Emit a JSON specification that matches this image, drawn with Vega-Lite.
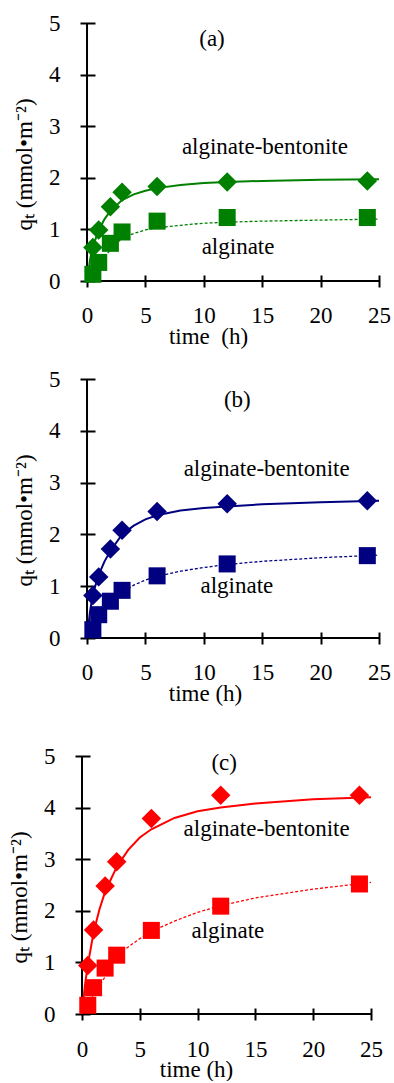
{
  "$schema": "https://vega.github.io/schema/vega-lite/v6.json",
  "background": "white",
  "padding": {"left": 7, "top": 12, "right": 0, "bottom": 0},
  "config": {
    "view": {"stroke": null},
    "font": "Liberation Serif, Times New Roman, serif",
    "axis": {
      "labelFont": "Liberation Serif, Times New Roman, serif", "titleFont": "Liberation Serif, Times New Roman, serif",
      "labelFontSize": 23, "titleFontSize": 23, "labelColor": "black", "titleColor": "black",
      "titleFontWeight": "normal", "tickColor": "black", "tickWidth": 2, "domain": false, "grid": false,
      "labelFlush": false, "labelOverlap": false, "labelBound": false
    },
    "text": {"font": "Liberation Serif, Times New Roman, serif", "fontSize": 23}
  },
  "datasets": {
    "frame": [
      {"t": 0, "q": 0, "t2": 0, "q2": 5},
      {"t": 0, "q": 0, "t2": 25, "q2": 0}
    ],
    "points": [
      {"panel":"a","series":"alginate-bentonite","t":0.5,"q":0.65},
      {"panel":"a","series":"alginate-bentonite","t":1,"q":0.99},
      {"panel":"a","series":"alginate-bentonite","t":2,"q":1.44},
      {"panel":"a","series":"alginate-bentonite","t":3,"q":1.72},
      {"panel":"a","series":"alginate-bentonite","t":6,"q":1.83},
      {"panel":"a","series":"alginate-bentonite","t":12,"q":1.92},
      {"panel":"a","series":"alginate-bentonite","t":24,"q":1.94},
      {"panel":"a","series":"alginate","t":0.5,"q":0.13},
      {"panel":"a","series":"alginate","t":1,"q":0.36},
      {"panel":"a","series":"alginate","t":2,"q":0.73},
      {"panel":"a","series":"alginate","t":3,"q":0.95},
      {"panel":"a","series":"alginate","t":6,"q":1.16},
      {"panel":"a","series":"alginate","t":12,"q":1.23},
      {"panel":"a","series":"alginate","t":24,"q":1.23},
      {"panel":"b","series":"alginate-bentonite","t":0.5,"q":0.82},
      {"panel":"b","series":"alginate-bentonite","t":1,"q":1.18},
      {"panel":"b","series":"alginate-bentonite","t":2,"q":1.72},
      {"panel":"b","series":"alginate-bentonite","t":3,"q":2.08},
      {"panel":"b","series":"alginate-bentonite","t":6,"q":2.44},
      {"panel":"b","series":"alginate-bentonite","t":12,"q":2.59},
      {"panel":"b","series":"alginate-bentonite","t":24,"q":2.65},
      {"panel":"b","series":"alginate","t":0.5,"q":0.16},
      {"panel":"b","series":"alginate","t":1,"q":0.45},
      {"panel":"b","series":"alginate","t":2,"q":0.71},
      {"panel":"b","series":"alginate","t":3,"q":0.92},
      {"panel":"b","series":"alginate","t":6,"q":1.2},
      {"panel":"b","series":"alginate","t":12,"q":1.43},
      {"panel":"b","series":"alginate","t":24,"q":1.59},
      {"panel":"c","series":"alginate-bentonite","t":0.5,"q":0.94},
      {"panel":"c","series":"alginate-bentonite","t":1,"q":1.63},
      {"panel":"c","series":"alginate-bentonite","t":2,"q":2.48},
      {"panel":"c","series":"alginate-bentonite","t":3,"q":2.95},
      {"panel":"c","series":"alginate-bentonite","t":6,"q":3.79},
      {"panel":"c","series":"alginate-bentonite","t":12,"q":4.24},
      {"panel":"c","series":"alginate-bentonite","t":24,"q":4.24},
      {"panel":"c","series":"alginate","t":0.5,"q":0.17},
      {"panel":"c","series":"alginate","t":1,"q":0.51},
      {"panel":"c","series":"alginate","t":2,"q":0.89},
      {"panel":"c","series":"alginate","t":3,"q":1.14},
      {"panel":"c","series":"alginate","t":6,"q":1.62},
      {"panel":"c","series":"alginate","t":12,"q":2.09},
      {"panel":"c","series":"alginate","t":24,"q":2.52}
    ],
    "curves": [
      {"panel":"a","series":"alginate-bentonite","t":0,"q":0},
      {"panel":"a","series":"alginate-bentonite","t":0.25,"q":0.4},
      {"panel":"a","series":"alginate-bentonite","t":0.5,"q":0.67},
      {"panel":"a","series":"alginate-bentonite","t":1,"q":0.98},
      {"panel":"a","series":"alginate-bentonite","t":1.5,"q":1.2},
      {"panel":"a","series":"alginate-bentonite","t":2,"q":1.36},
      {"panel":"a","series":"alginate-bentonite","t":3,"q":1.57},
      {"panel":"a","series":"alginate-bentonite","t":4,"q":1.68},
      {"panel":"a","series":"alginate-bentonite","t":5,"q":1.75},
      {"panel":"a","series":"alginate-bentonite","t":6,"q":1.8},
      {"panel":"a","series":"alginate-bentonite","t":8,"q":1.86},
      {"panel":"a","series":"alginate-bentonite","t":10,"q":1.9},
      {"panel":"a","series":"alginate-bentonite","t":12,"q":1.92},
      {"panel":"a","series":"alginate-bentonite","t":15,"q":1.94},
      {"panel":"a","series":"alginate-bentonite","t":20,"q":1.96},
      {"panel":"a","series":"alginate-bentonite","t":25,"q":1.97},
      {"panel":"a","series":"alginate","t":0,"q":0},
      {"panel":"a","series":"alginate","t":0.5,"q":0.2},
      {"panel":"a","series":"alginate","t":1,"q":0.35},
      {"panel":"a","series":"alginate","t":2,"q":0.6},
      {"panel":"a","series":"alginate","t":3,"q":0.83},
      {"panel":"a","series":"alginate","t":4,"q":0.92},
      {"panel":"a","series":"alginate","t":5,"q":0.99},
      {"panel":"a","series":"alginate","t":6,"q":1.03},
      {"panel":"a","series":"alginate","t":8,"q":1.08},
      {"panel":"a","series":"alginate","t":10,"q":1.12},
      {"panel":"a","series":"alginate","t":12,"q":1.14},
      {"panel":"a","series":"alginate","t":15,"q":1.16},
      {"panel":"a","series":"alginate","t":20,"q":1.18},
      {"panel":"a","series":"alginate","t":25,"q":1.2},
      {"panel":"b","series":"alginate-bentonite","t":0,"q":0},
      {"panel":"b","series":"alginate-bentonite","t":0.25,"q":0.5},
      {"panel":"b","series":"alginate-bentonite","t":0.5,"q":0.85},
      {"panel":"b","series":"alginate-bentonite","t":1,"q":1.22},
      {"panel":"b","series":"alginate-bentonite","t":1.5,"q":1.48},
      {"panel":"b","series":"alginate-bentonite","t":2,"q":1.68},
      {"panel":"b","series":"alginate-bentonite","t":3,"q":2.0},
      {"panel":"b","series":"alginate-bentonite","t":4,"q":2.17},
      {"panel":"b","series":"alginate-bentonite","t":5,"q":2.29},
      {"panel":"b","series":"alginate-bentonite","t":6,"q":2.37},
      {"panel":"b","series":"alginate-bentonite","t":8,"q":2.46},
      {"panel":"b","series":"alginate-bentonite","t":10,"q":2.51},
      {"panel":"b","series":"alginate-bentonite","t":12,"q":2.54},
      {"panel":"b","series":"alginate-bentonite","t":15,"q":2.58},
      {"panel":"b","series":"alginate-bentonite","t":20,"q":2.62},
      {"panel":"b","series":"alginate-bentonite","t":25,"q":2.65},
      {"panel":"b","series":"alginate","t":0,"q":0},
      {"panel":"b","series":"alginate","t":0.5,"q":0.2},
      {"panel":"b","series":"alginate","t":1,"q":0.38},
      {"panel":"b","series":"alginate","t":2,"q":0.66},
      {"panel":"b","series":"alginate","t":3,"q":0.88},
      {"panel":"b","series":"alginate","t":4,"q":1.02},
      {"panel":"b","series":"alginate","t":5,"q":1.12},
      {"panel":"b","series":"alginate","t":6,"q":1.19},
      {"panel":"b","series":"alginate","t":8,"q":1.29},
      {"panel":"b","series":"alginate","t":10,"q":1.36},
      {"panel":"b","series":"alginate","t":12,"q":1.42},
      {"panel":"b","series":"alginate","t":15,"q":1.48},
      {"panel":"b","series":"alginate","t":20,"q":1.55},
      {"panel":"b","series":"alginate","t":25,"q":1.6},
      {"panel":"c","series":"alginate-bentonite","t":0,"q":0},
      {"panel":"c","series":"alginate-bentonite","t":0.25,"q":0.55},
      {"panel":"c","series":"alginate-bentonite","t":0.5,"q":0.95},
      {"panel":"c","series":"alginate-bentonite","t":1,"q":1.58},
      {"panel":"c","series":"alginate-bentonite","t":1.5,"q":2.02},
      {"panel":"c","series":"alginate-bentonite","t":2,"q":2.37},
      {"panel":"c","series":"alginate-bentonite","t":3,"q":2.85},
      {"panel":"c","series":"alginate-bentonite","t":4,"q":3.18},
      {"panel":"c","series":"alginate-bentonite","t":5,"q":3.42},
      {"panel":"c","series":"alginate-bentonite","t":6,"q":3.58},
      {"panel":"c","series":"alginate-bentonite","t":8,"q":3.8},
      {"panel":"c","series":"alginate-bentonite","t":10,"q":3.93},
      {"panel":"c","series":"alginate-bentonite","t":12,"q":4.0},
      {"panel":"c","series":"alginate-bentonite","t":15,"q":4.08},
      {"panel":"c","series":"alginate-bentonite","t":20,"q":4.16},
      {"panel":"c","series":"alginate-bentonite","t":25,"q":4.2},
      {"panel":"c","series":"alginate","t":0,"q":0},
      {"panel":"c","series":"alginate","t":0.5,"q":0.18},
      {"panel":"c","series":"alginate","t":1,"q":0.38},
      {"panel":"c","series":"alginate","t":2,"q":0.72},
      {"panel":"c","series":"alginate","t":3,"q":1.12},
      {"panel":"c","series":"alginate","t":4,"q":1.3},
      {"panel":"c","series":"alginate","t":5,"q":1.46},
      {"panel":"c","series":"alginate","t":6,"q":1.6},
      {"panel":"c","series":"alginate","t":8,"q":1.8},
      {"panel":"c","series":"alginate","t":10,"q":1.97},
      {"panel":"c","series":"alginate","t":12,"q":2.1},
      {"panel":"c","series":"alginate","t":15,"q":2.25},
      {"panel":"c","series":"alginate","t":20,"q":2.42},
      {"panel":"c","series":"alginate","t":25,"q":2.55}
    ],
    "labels": [
      {"panel":"a","label":"(a)","t":10.7,"q":4.55},
      {"panel":"a","label":"alginate-bentonite","t":15.23,"q":2.47},
      {"panel":"a","label":"alginate","t":12.93,"q":0.52},
      {"panel":"b","label":"(b)","t":12.87,"q":4.45},
      {"panel":"b","label":"alginate-bentonite","t":15.38,"q":3.12},
      {"panel":"b","label":"alginate","t":12.83,"q":0.87},
      {"panel":"c","label":"(c)","t":12.3,"q":4.73},
      {"panel":"c","label":"alginate-bentonite","t":15.97,"q":3.44},
      {"panel":"c","label":"alginate","t":12.62,"q":1.47}
    ]
  },
  "spacing": 40,
  "vconcat": [
    {
      "spacing": 20,
      "vconcat": [
        {
          "width": 297, "height": 258,
          "encoding": {
            "x": {"field": "t", "type": "quantitative", "scale": {"domain": [-0.43, 25], "nice": false, "zero": false},
              "axis": {"values": [0,5,10,15,20,25], "offset": -6, "tickSize": 12, "labelPadding": 35.5, "labelBaseline": "alphabetic",
                "title": "time\u00a0 (h)", "titleX": 126, "titleY": 68, "titleBaseline": "alphabetic", "titleAlign": "center"}},
            "y": {"field": "q", "type": "quantitative", "scale": {"domain": [0, 5], "nice": false, "zero": false},
              "axis": {"values": [0,1,2,3,4,5], "offset": -13, "tickSize": 15, "labelPadding": 20,
                "title": "qₜ (mmol•m⁻²)", "titleX": -64, "titleY": 141, "titleBaseline": "alphabetic", "titleAlign": "center"}}
          },
          "layer": [
            {"data": {"name": "frame"}, "mark": {"type": "rule", "color": "black", "strokeWidth": 2},
              "encoding": {"x2": {"field": "t2"}, "y2": {"field": "q2"}}},
            {"data": {"name": "curves"}, "transform": [{"filter": "datum.panel === 'a' && datum.series === 'alginate'"}],
              "mark": {"type": "line", "color": "#008000", "strokeWidth": 1.3, "strokeDash": [3, 2]}},
            {"data": {"name": "curves"}, "transform": [{"filter": "datum.panel === 'a' && datum.series === 'alginate-bentonite'"}],
              "mark": {"type": "line", "color": "#008000", "strokeWidth": 2}},
            {"data": {"name": "points"}, "transform": [{"filter": "datum.panel === 'a'"}],
              "mark": {"type": "point", "filled": true, "opacity": 1, "color": "#008000", "strokeWidth": 0},
              "encoding": {
                "shape": {"field": "series", "type": "nominal", "scale": {"domain": ["alginate-bentonite", "alginate"], "range": ["diamond", "square"]}, "legend": null},
                "size": {"field": "series", "type": "nominal", "scale": {"domain": ["alginate-bentonite", "alginate"], "range": [380, 290]}, "legend": null}
              }},
            {"data": {"name": "labels"}, "transform": [{"filter": "datum.panel === 'a'"}],
              "mark": {"type": "text", "align": "center", "baseline": "alphabetic", "font": "Liberation Serif, Times New Roman, serif", "fontSize": 23, "color": "black"},
              "encoding": {"text": {"field": "label"}}}
          ]
        },
        {
          "width": 297, "height": 259,
          "encoding": {
            "x": {"field": "t", "type": "quantitative", "scale": {"domain": [-0.43, 25], "nice": false, "zero": false},
              "axis": {"values": [0,5,10,15,20,25], "offset": -6, "tickSize": 12, "labelPadding": 35.5, "labelBaseline": "alphabetic",
                "title": "time (h)", "titleX": 123, "titleY": 68, "titleBaseline": "alphabetic", "titleAlign": "center"}},
            "y": {"field": "q", "type": "quantitative", "scale": {"domain": [0, 5], "nice": false, "zero": false},
              "axis": {"values": [0,1,2,3,4,5], "offset": -13, "tickSize": 15, "labelPadding": 20,
                "title": "qₜ (mmol•m⁻²)", "titleX": -64, "titleY": 141, "titleBaseline": "alphabetic", "titleAlign": "center"}}
          },
          "layer": [
            {"data": {"name": "frame"}, "mark": {"type": "rule", "color": "black", "strokeWidth": 2},
              "encoding": {"x2": {"field": "t2"}, "y2": {"field": "q2"}}},
            {"data": {"name": "curves"}, "transform": [{"filter": "datum.panel === 'b' && datum.series === 'alginate'"}],
              "mark": {"type": "line", "color": "#000080", "strokeWidth": 1.3, "strokeDash": [3, 2]}},
            {"data": {"name": "curves"}, "transform": [{"filter": "datum.panel === 'b' && datum.series === 'alginate-bentonite'"}],
              "mark": {"type": "line", "color": "#000080", "strokeWidth": 2}},
            {"data": {"name": "points"}, "transform": [{"filter": "datum.panel === 'b'"}],
              "mark": {"type": "point", "filled": true, "opacity": 1, "color": "#000080", "strokeWidth": 0},
              "encoding": {
                "shape": {"field": "series", "type": "nominal", "scale": {"domain": ["alginate-bentonite", "alginate"], "range": ["diamond", "square"]}, "legend": null},
                "size": {"field": "series", "type": "nominal", "scale": {"domain": ["alginate-bentonite", "alginate"], "range": [380, 290]}, "legend": null}
              }},
            {"data": {"name": "labels"}, "transform": [{"filter": "datum.panel === 'b'"}],
              "mark": {"type": "text", "align": "center", "baseline": "alphabetic", "font": "Liberation Serif, Times New Roman, serif", "fontSize": 23, "color": "black"},
              "encoding": {"text": {"field": "label"}}}
          ]
        }
      ]
    },
    {
      "width": 289, "height": 258,
      "encoding": {
        "x": {"field": "t", "type": "quantitative", "scale": {"domain": [0, 25], "nice": false, "zero": false},
          "axis": {"values": [0,5,10,15,20,25], "offset": -6, "tickSize": 12, "labelPadding": 36, "labelBaseline": "alphabetic",
            "title": "time (h)", "titleX": 114, "titleY": 68, "titleBaseline": "alphabetic", "titleAlign": "center"}},
        "y": {"field": "q", "type": "quantitative", "scale": {"domain": [0, 5], "nice": false, "zero": false},
          "axis": {"values": [0,1,2,3,4,5], "offset": -8, "tickSize": 15, "labelPadding": 20,
            "title": "qₜ (mmol•m⁻²)", "titleX": -64, "titleY": 141, "titleBaseline": "alphabetic", "titleAlign": "center"}}
      },
      "layer": [
        {"data": {"name": "frame"}, "mark": {"type": "rule", "color": "black", "strokeWidth": 2},
          "encoding": {"x2": {"field": "t2"}, "y2": {"field": "q2"}}},
        {"data": {"name": "curves"}, "transform": [{"filter": "datum.panel === 'c' && datum.series === 'alginate'"}],
          "mark": {"type": "line", "color": "#ff0000", "strokeWidth": 1.3, "strokeDash": [3, 2]}},
        {"data": {"name": "curves"}, "transform": [{"filter": "datum.panel === 'c' && datum.series === 'alginate-bentonite'"}],
          "mark": {"type": "line", "color": "#ff0000", "strokeWidth": 2}},
        {"data": {"name": "points"}, "transform": [{"filter": "datum.panel === 'c'"}],
          "mark": {"type": "point", "filled": true, "opacity": 1, "color": "#ff0000", "strokeWidth": 0},
          "encoding": {
            "shape": {"field": "series", "type": "nominal", "scale": {"domain": ["alginate-bentonite", "alginate"], "range": ["diamond", "square"]}, "legend": null},
            "size": {"field": "series", "type": "nominal", "scale": {"domain": ["alginate-bentonite", "alginate"], "range": [380, 290]}, "legend": null}
          }},
        {"data": {"name": "labels"}, "transform": [{"filter": "datum.panel === 'c'"}],
          "mark": {"type": "text", "align": "center", "baseline": "alphabetic", "font": "Liberation Serif, Times New Roman, serif", "fontSize": 23, "color": "black"},
          "encoding": {"text": {"field": "label"}}}
      ]
    }
  ]
}
